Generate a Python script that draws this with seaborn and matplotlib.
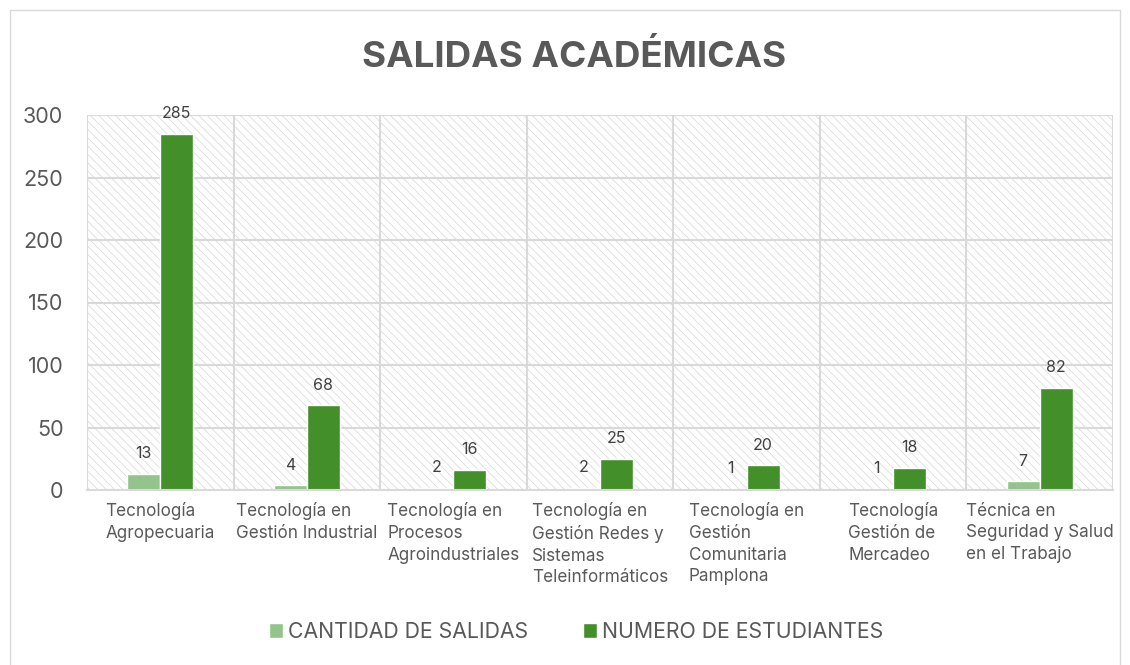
import pandas as pd
import matplotlib.pyplot as plt
import seaborn as sns
from matplotlib.patches import Rectangle

# -----------------------------
# Data
# -----------------------------
programas = [
    "Tecnología\nAgropecuaria",
    "Tecnología en\nGestión Industrial",
    "Tecnología en\nProcesos\nAgroindustriales",
    "Tecnología en\nGestión Redes y\nSistemas\nTeleinformáticos",
    "Tecnología en\nGestión\nComunitaria\nPamplona",
    "Tecnología\nGestión de\nMercadeo",
    "Técnica en\nSeguridad y Salud\nen el Trabajo",
]
cantidad_salidas = [13, 4, 2, 2, 1, 1, 7]
numero_estudiantes = [285, 68, 16, 25, 20, 18, 82]
series = ["CANTIDAD DE SALIDAS", "NUMERO DE ESTUDIANTES"]
colores = ["#93C48B", "#43902B"]

df = pd.DataFrame({
    "Programa": programas * 2,
    "Serie": [series[0]] * len(programas) + [series[1]] * len(programas),
    "Valor": cantidad_salidas + numero_estudiantes,
})

# -----------------------------
# Theme
# -----------------------------
sns.set_theme(style="white")
plt.rcParams["font.family"] = ["Inter", "DejaVu Sans"]
plt.rcParams["hatch.linewidth"] = 0.5
TXT = "#595959"
GRID = "#D9D9D9"

fig = plt.figure(figsize=(11.3, 6.65), dpi=100)
ax = fig.add_axes([87 / 1130, 1 - 490 / 665, (1113 - 87) / 1130, (490 - 115) / 665])

# hatched plot background
ax.add_patch(Rectangle((0, 0), 1, 1, transform=ax.transAxes, facecolor="white",
                       edgecolor="#D6D6D6", hatch="\\\\\\\\", linewidth=0, zorder=0))

sns.barplot(data=df, x="Programa", y="Valor", hue="Serie", palette=colores,
            width=0.45, gap=0, saturation=1, ax=ax, zorder=3, legend=True)

for cont in ax.containers:
    ax.bar_label(cont, padding=9, fontsize=11.5, color="#404040")

ax.set_ylim(0, 300)
ax.set_xlim(-0.5, len(programas) - 0.5)
ax.set_yticks(range(0, 301, 50))
ax.set_xlabel("")
ax.set_ylabel("")

# grid
for y in range(50, 301, 50):
    ax.axhline(y, color=GRID, lw=1.5, zorder=1)
for i in range(len(programas) + 1):
    ax.axvline(i - 0.5, color=GRID, lw=1.5, zorder=1)

for s in ["top", "right", "left"]:
    ax.spines[s].set_visible(False)
ax.spines["bottom"].set_color(GRID)
ax.spines["bottom"].set_linewidth(1.5)
ax.spines["bottom"].set_zorder(4)

ax.tick_params(axis="y", length=0, labelsize=15.5, labelcolor=TXT, pad=17)
ax.set_xticks([i - 0.5 for i in range(len(programas) + 1)], minor=True)
ax.tick_params(axis="x", which="minor", length=8, width=1.5, color=GRID)
ax.tick_params(axis="x", which="major", length=0, labelsize=12.3, labelcolor=TXT, pad=9)
for lab in ax.get_xticklabels():
    lab.set_multialignment("left")
    lab.set_verticalalignment("top")
    lab.set_linespacing(1.35)

# legend
h, l = ax.get_legend_handles_labels()
ax.legend_.remove()
fig.legend(h, l, loc="center", bbox_to_anchor=(0.51, 1 - 632 / 665), ncol=2,
           frameon=False, fontsize=15.3, labelcolor=TXT, handlelength=0.65,
           handleheight=0.65, handletextpad=0.25, columnspacing=2.6)

fig.text(0.508, 1 - 57 / 665, "SALIDAS ACADÉMICAS", ha="center", va="center",
         fontsize=26.5, fontweight="bold", color=TXT)

# chart border
fig.patches.append(Rectangle((10 / 1130, -0.01), 1110 / 1130, 1 - 10 / 665 + 0.01,
                             transform=fig.transFigure, fill=False,
                             edgecolor=GRID, linewidth=1))

fig.savefig("out.png", dpi=100)
